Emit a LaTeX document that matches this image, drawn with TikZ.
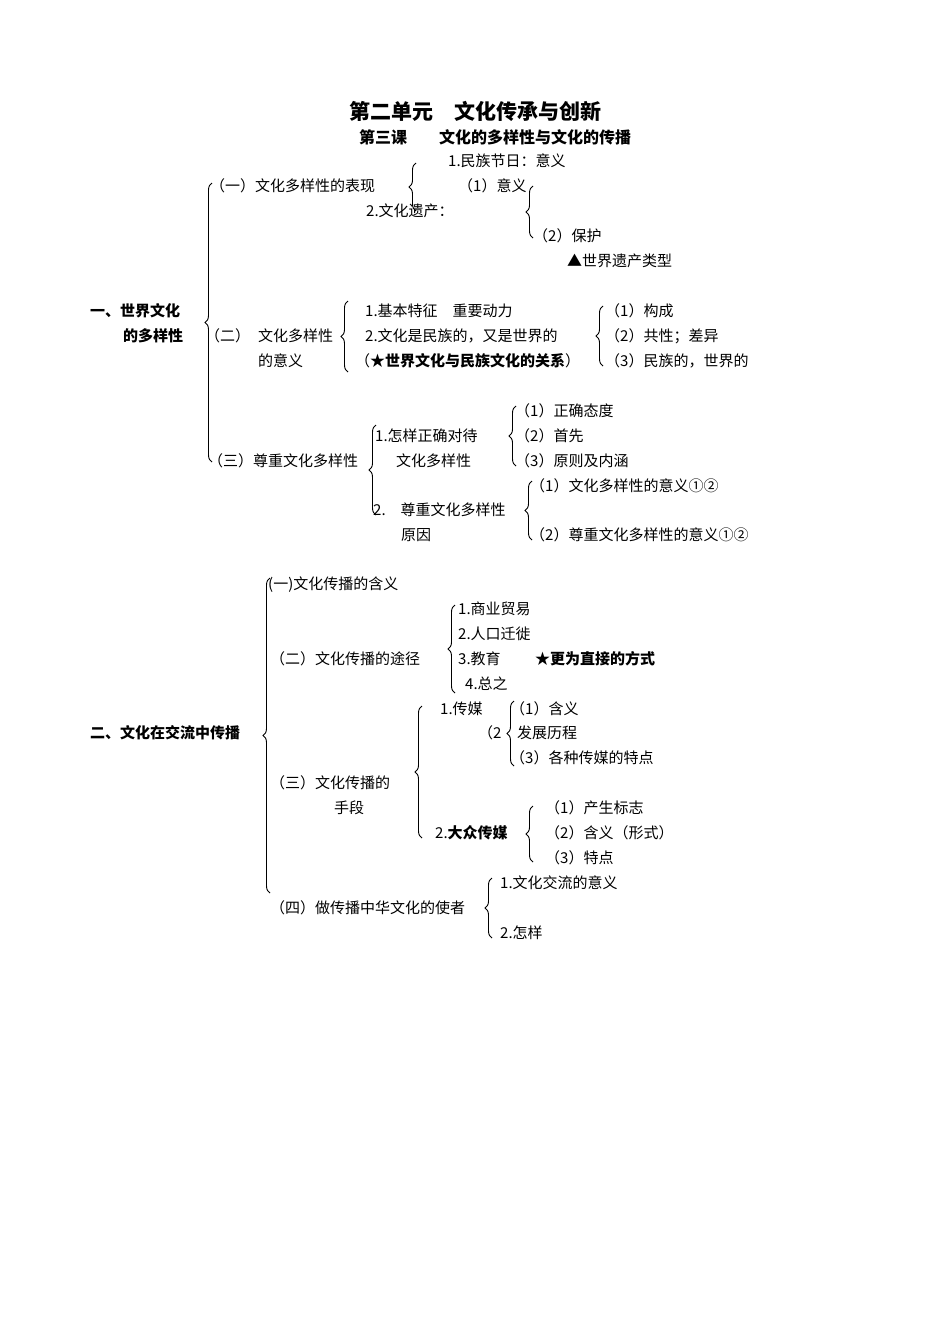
\documentclass[tikz,border=0pt]{standalone}
\usepackage{fontspec}
\setmainfont{Noto Sans CJK SC}
\usetikzlibrary{decorations.pathreplacing}
\tikzset{
  txt/.style={anchor=west, inner sep=0pt, font=\fontsize{15}{16}\selectfont},
  btxt/.style={txt, font=\fontsize{15}{16}\selectfont\bfseries},
  brc/.style={decorate, decoration={brace, amplitude=7pt}, line width=0.9pt}
}
\newcommand{\brc}[3]{\draw[brc] (#1,#3) -- (#1,#2);}
\begin{document}
\begin{tikzpicture}[x=1pt,y=-1pt]
    \useasboundingbox (0,0) rectangle (950,1344);
    % title
    \node[font=\fontsize{21}{22}\selectfont\bfseries] (title) at (475,111) {第二单元\quad 文化传承与创新};
    \node[font=\fontsize{16}{17}\selectfont\bfseries] (sub) at (495,137) {第三课\qquad 文化的多样性与文化的传播};
    % part one
    \node[btxt] (p1a) at (90,311) {一、世界文化};
    \node[btxt] (p1b) at (123,336) {的多样性};
    \brc{212}{183}{462}
    % (一)
    \node[txt] (a1) at (210,186) {（一）文化多样性的表现};
    \brc{416}{163}{211}
    \node[txt] (a11) at (448,161) {1.民族节日：意义};
    \node[txt] (a12) at (366,211) {2.文化遗产：};
    \brc{533}{186}{238}
    \node[txt] (a121) at (458,186) {（1）意义};
    \node[txt] (a122) at (533,236) {（2）保护};
    \node[txt] (a123) at (567,261) {▲世界遗产类型};
    % (二)
    \node[txt] (b1) at (205,336) {（二）};
    \node[txt] (b1a) at (258,336) {文化多样性};
    \node[txt] (b1b) at (258,361) {的意义};
    \brc{348}{301}{372}
    \node[txt] (b11) at (365,311) {1.基本特征\quad 重要动力};
    \node[txt] (b12) at (365,336) {2.文化是民族的，又是世界的};
    \node[txt] (b13) at (355,361) {（\textbf{★世界文化与民族文化的关系}）};
    \brc{603}{306}{366}
    \node[txt] (b121) at (605,311) {（1）构成};
    \node[txt] (b122) at (605,336) {（2）共性；差异};
    \node[txt] (b123) at (605,361) {（3）民族的，世界的};
    % (三)
    \node[txt] (c1) at (208,461) {（三）尊重文化多样性};
    \brc{376}{425}{515}
    \node[txt] (c11a) at (375,436) {1.怎样正确对待};
    \node[txt] (c11b) at (396,461) {文化多样性};
    \brc{516}{406}{466}
    \node[txt] (c111) at (515,411) {（1）正确态度};
    \node[txt] (c112) at (515,436) {（2）首先};
    \node[txt] (c113) at (515,461) {（3）原则及内涵};
    \node[txt] (c12a) at (373,510) {2.\quad 尊重文化多样性};
    \node[txt] (c12b) at (401,535) {原因};
    \brc{532}{481}{540}
    \node[txt] (c121) at (530,486) {（1）文化多样性的意义①②};
    \node[txt] (c122) at (530,535) {（2）尊重文化多样性的意义①②};
    % part two
    \node[btxt] (p2) at (90,733) {二、文化在交流中传播};
    \brc{270}{578}{893}
    \node[txt] (d1) at (268,585) {(一)文化传播的含义};
    % (二)
    \node[txt] (e1) at (270,659) {（二）文化传播的途径};
    \brc{455}{605}{693}
    \node[txt] (e11) at (458,609) {1.商业贸易};
    \node[txt] (e12) at (458,634) {2.人口迁徙};
    \node[txt] (e13) at (458,659) {3.教育};
    \node[btxt] (e13s) at (535,659) {★更为直接的方式};
    \node[txt] (e14) at (465,684) {4.总之};
    % (三)
    \node[txt] (f1a) at (270,783) {（三）文化传播的};
    \node[txt] (f1b) at (334,808) {手段};
    \brc{422}{706}{838}
    \node[txt] (f11) at (440,709) {1.传媒};
    \node[txt] (f11x) at (478,733) {（2};
    \brc{514}{701}{766}
    \node[txt] (f111) at (510,709) {（1）含义};
    \node[txt] (f112) at (517,733) {发展历程};
    \node[txt] (f113) at (510,758) {（3）各种传媒的特点};
    \node[txt] (f12) at (435,833) {2.\textbf{大众传媒}};
    \brc{533}{806}{862}
    \node[txt] (f121) at (545,808) {（1）产生标志};
    \node[txt] (f122) at (545,833) {（2）含义（形式）};
    \node[txt] (f123) at (545,858) {（3）特点};
    % (四)
    \node[txt] (g1) at (270,908) {（四）做传播中华文化的使者};
    \brc{492}{878}{938}
    \node[txt] (g11) at (500,883) {1.文化交流的意义};
    \node[txt] (g12) at (500,933) {2.怎样};
\end{tikzpicture}
\end{document}
